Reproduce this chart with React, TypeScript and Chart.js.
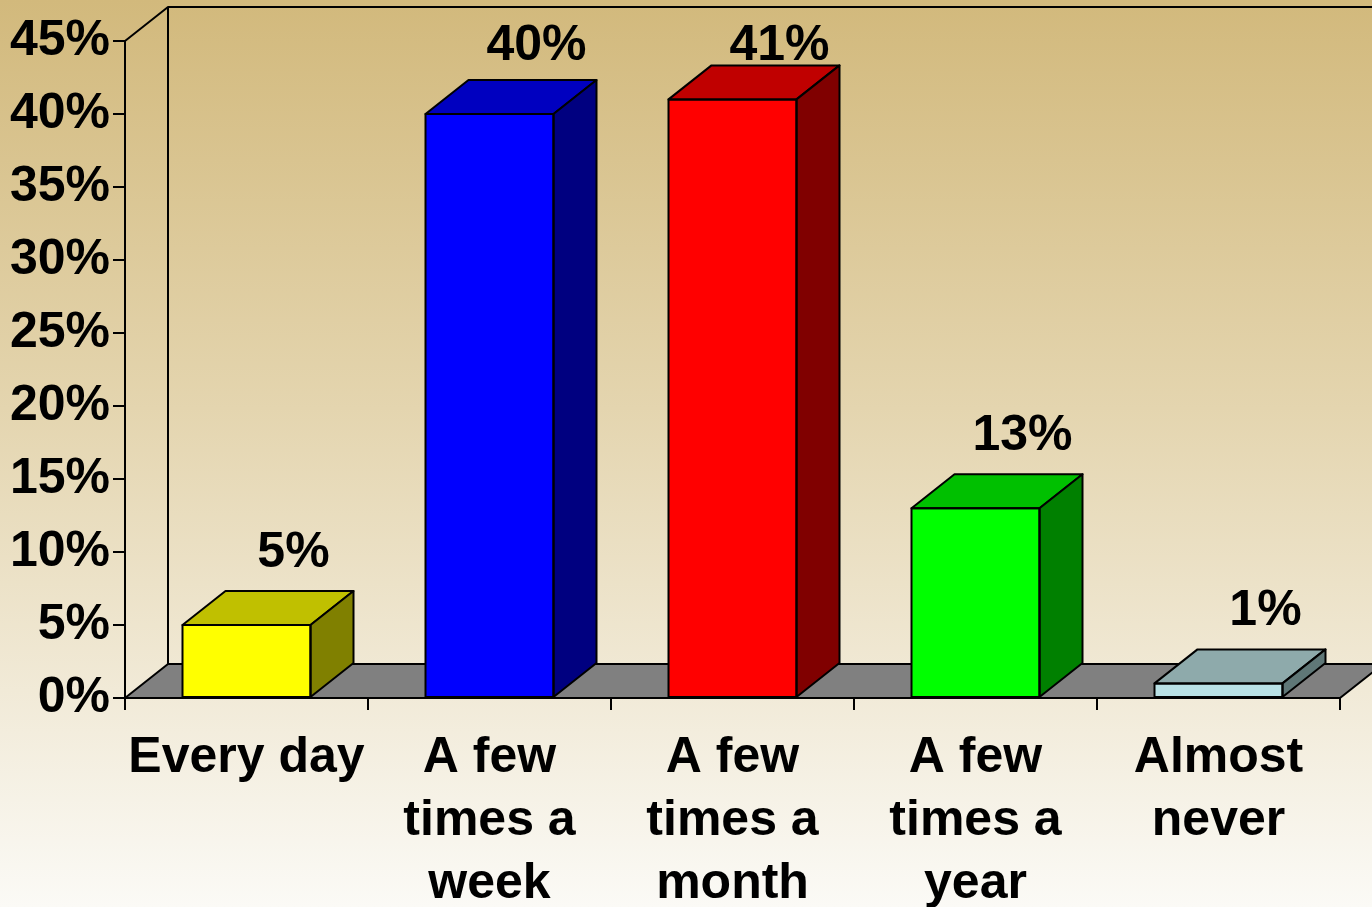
import { useEffect, useRef } from "react";
import { Chart, registerables } from "chart.js";

Chart.register(...registerables);

const categories: (string | string[])[] = [
  "Every day",
  ["A few", "times a", "week"],
  ["A few", "times a", "month"],
  ["A few", "times a", "year"],
  ["Almost", "never"],
];
const values = [5, 40, 41, 13, 1];
const valueLabels = ["5%", "40%", "41%", "13%", "1%"];
const yMin = 0;
const yMax = 45;
const yStep = 5;
const frontColors = ["#FFFF00", "#0000FF", "#FF0000", "#00FF00", "#B9E1E5"];
const topColors = ["#C0C000", "#0000C0", "#C00000", "#00C000", "#8EAAAB"];
const sideColors = ["#808000", "#000080", "#800000", "#008000", "#5F7777"];

const FONT = '"Liberation Sans", Arial, sans-serif';
const DX = 43;
const DY = -34;

const threeD = {
  id: "threeD",
  beforeDatasetsDraw(chart: any) {
    const { ctx, chartArea } = chart;
    const y0 = chart.scales.y.getPixelForValue(yMin);
    const yT = chart.scales.y.getPixelForValue(yMax);
    const L = chartArea.left;
    const R = chartArea.right;
    ctx.save();
    ctx.lineWidth = 2;
    ctx.strokeStyle = "#000";
    ctx.lineJoin = "round";
    // floor
    ctx.beginPath();
    ctx.moveTo(L, y0);
    ctx.lineTo(L + DX, y0 + DY);
    ctx.lineTo(R + DX, y0 + DY);
    ctx.lineTo(R, y0);
    ctx.closePath();
    ctx.fillStyle = "#808080";
    ctx.fill();
    ctx.stroke();
    // back wall / side wall edges
    ctx.beginPath();
    ctx.moveTo(L, yT);
    ctx.lineTo(L + DX, yT + DY);
    ctx.lineTo(R + DX + 20, yT + DY);
    ctx.moveTo(L + DX, yT + DY);
    ctx.lineTo(L + DX, y0 + DY);
    ctx.stroke();
    ctx.restore();
  },
  afterDatasetsDraw(chart: any) {
    const { ctx } = chart;
    const meta = chart.getDatasetMeta(0);
    ctx.save();
    ctx.lineWidth = 2;
    ctx.strokeStyle = "#000";
    ctx.lineJoin = "round";
    meta.data.forEach((bar: any, i: number) => {
      const w = bar.width;
      const l = bar.x - w / 2;
      const r = bar.x + w / 2;
      const t = bar.y;
      const b = bar.base;
      // top face
      ctx.beginPath();
      ctx.moveTo(l, t);
      ctx.lineTo(l + DX, t + DY);
      ctx.lineTo(r + DX, t + DY);
      ctx.lineTo(r, t);
      ctx.closePath();
      ctx.fillStyle = topColors[i];
      ctx.fill();
      ctx.stroke();
      // side face
      ctx.beginPath();
      ctx.moveTo(r, t);
      ctx.lineTo(r + DX, t + DY);
      ctx.lineTo(r + DX, b + DY);
      ctx.lineTo(r, b);
      ctx.closePath();
      ctx.fillStyle = sideColors[i];
      ctx.fill();
      ctx.stroke();
      // front outline
      ctx.strokeRect(l, t, w, b - t);
      // value label
      ctx.fillStyle = "#000";
      ctx.font = `bold 50px ${FONT}`;
      ctx.textAlign = "center";
      ctx.textBaseline = "alphabetic";
      const baseline = Math.max(t + DY - 24, 60);
      ctx.fillText(valueLabels[i], bar.x + 47, baseline);
    });
    ctx.restore();
  },
};

export default function App() {
  const ref = useRef<HTMLCanvasElement>(null);
  useEffect(() => {
    if (!ref.current) return;
    const chart = new Chart(ref.current, {
      type: "bar",
      data: {
        labels: categories,
        datasets: [
          {
            data: values,
            backgroundColor: frontColors,
            borderColor: "#000",
            borderWidth: 0,
            barThickness: 128,
          },
        ],
      },
      options: {
        animation: false,
        responsive: false,
        layout: { padding: { top: 41, right: 32, left: 0, bottom: 0 } },
        plugins: {
          legend: { display: false },
          tooltip: { enabled: false },
        },
        scales: {
          x: {
            grid: {
              offset: true,
              drawOnChartArea: false,
              drawTicks: true,
              tickLength: 12,
              color: "#000",
              lineWidth: 2,
            },
            border: { display: true, color: "#000", width: 2 },
            ticks: {
              color: "#000",
              font: { family: FONT, size: 50, weight: "bold", lineHeight: 1.26 },
              padding: 17,
              maxRotation: 0,
              autoSkip: false,
            },
            afterFit(scale: any) {
              scale.height = 209;
            },
          },
          y: {
            min: yMin,
            max: yMax,
            grid: {
              drawOnChartArea: false,
              drawTicks: true,
              tickLength: 12,
              color: "#000",
              lineWidth: 2,
            },
            border: { display: true, color: "#000", width: 2 },
            ticks: {
              stepSize: yStep,
              color: "#000",
              padding: 3,
              font: { family: FONT, size: 50, weight: "bold" },
              callback: (v: any) => `${v}%`,
            },
            afterFit(scale: any) {
              scale.width = 125;
            },
          },
        },
      },
      plugins: [threeD],
    });
    return () => chart.destroy();
  }, []);
  return (
    <div
      style={{
        position: "fixed",
        left: 0,
        top: 0,
        width: 1372,
        height: 907,
        background: "linear-gradient(to bottom, #D2B97C 0%, #E4D5AF 45%, #FBFAF6 100%)",
      }}
    >
      <canvas ref={ref} width={1372} height={907} style={{ display: "block" }} />
    </div>
  );
}
